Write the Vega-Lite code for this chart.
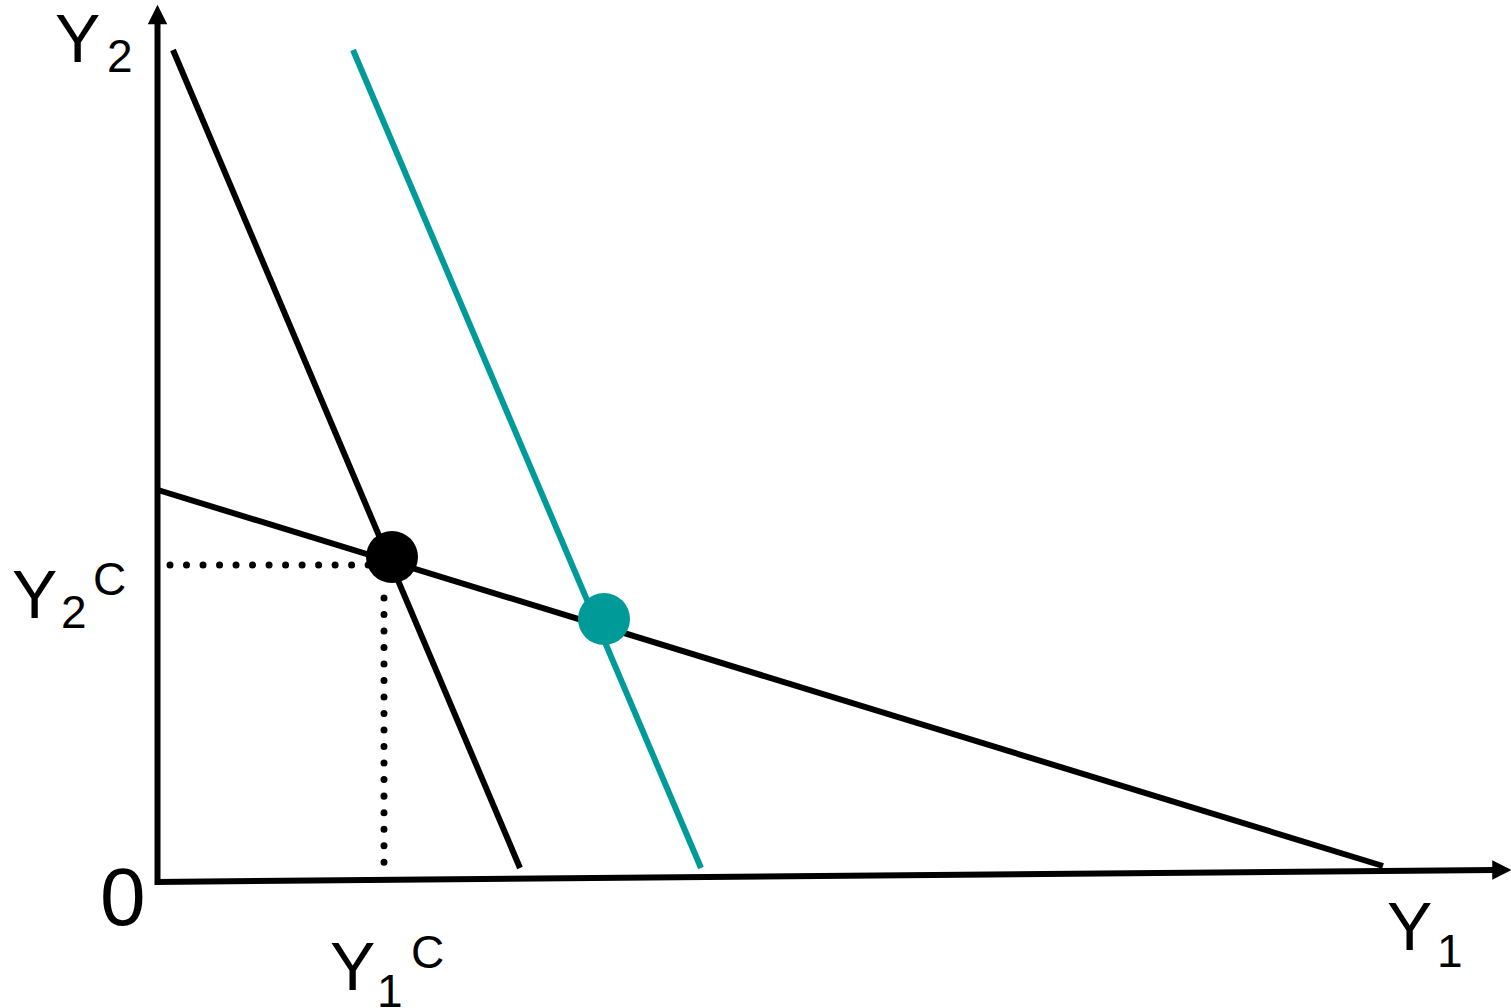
{
  "$schema": "https://vega.github.io/schema/vega-lite/v6.json",
  "width": 1511,
  "height": 1008,
  "autosize": "none",
  "padding": 0,
  "background": "white",
  "config": {"view": {"stroke": null}},
  "datasets": {
    "segments": [
      {"name": "Y2 axis", "x": -0.5, "y": -3, "x2": -0.5, "y2": 860, "kind": "black"},
      {"name": "Y1 axis", "x": -3, "y": 0, "x2": 1337, "y2": 12, "kind": "black"},
      {"name": "steep line", "x": 15, "y": 832, "x2": 362, "y2": 14, "kind": "black"},
      {"name": "flat line", "x": 0, "y": 392, "x2": 1225, "y2": 16, "kind": "black"},
      {"name": "shifted steep line", "x": 195, "y": 832, "x2": 543, "y2": 14, "kind": "teal"}
    ],
    "dotted": [
      {"name": "Y2C guide", "x": 12, "y": 317, "x2": 228, "y2": 317},
      {"name": "Y1C guide", "x": 226, "y": 284, "x2": 226, "y2": 4}
    ],
    "points": [
      {"name": "equilibrium", "x": 234, "y": 325, "kind": "black"},
      {"name": "new equilibrium", "x": 446, "y": 263, "kind": "teal"}
    ],
    "uparrow": [{"x": -0.5, "y": 867.5}],
    "rightarrow": [{"x": 1344, "y": 12}],
    "bigtext": [
      {"label": "Y", "x": -103, "y": 820},
      {"label": "Y", "x": -146, "y": 264},
      {"label": "Y", "x": 172, "y": -108},
      {"label": "Y", "x": 1229, "y": -68}
    ],
    "zerotext": [{"label": "0", "x": -58, "y": -43}],
    "smalltext": [
      {"label": "2", "x": -51, "y": 810},
      {"label": "2", "x": -97, "y": 254},
      {"label": "C", "x": -65, "y": 287},
      {"label": "1", "x": 219, "y": -125},
      {"label": "C", "x": 253, "y": -86},
      {"label": "1", "x": 1279, "y": -85}
    ]
  },
  "layer": [
    {
      "data": {"name": "segments"},
      "mark": {"type": "rule", "strokeWidth": 6, "strokeCap": "butt"},
      "encoding": {
        "x": {"field": "x", "type": "quantitative", "scale": {"domain": [-158, 1353], "nice": false, "zero": false}, "axis": null},
        "y": {"field": "y", "type": "quantitative", "scale": {"domain": [-126, 882], "nice": false, "zero": false}, "axis": null},
        "x2": {"field": "x2"},
        "y2": {"field": "y2"},
        "color": {"field": "kind", "type": "nominal", "scale": {"domain": ["black", "teal"], "range": ["#000000", "#009B98"]}, "legend": null}
      }
    },
    {
      "data": {"name": "dotted"},
      "mark": {"type": "rule", "strokeWidth": 7, "strokeCap": "round", "strokeDash": [0.01, 16.5], "color": "#000000"},
      "encoding": {
        "x": {"field": "x", "type": "quantitative"},
        "y": {"field": "y", "type": "quantitative"},
        "x2": {"field": "x2"},
        "y2": {"field": "y2"}
      }
    },
    {
      "data": {"name": "points"},
      "mark": {"type": "point", "shape": "circle", "filled": true, "opacity": 1, "size": 2704, "strokeWidth": 0},
      "encoding": {
        "x": {"field": "x", "type": "quantitative"},
        "y": {"field": "y", "type": "quantitative"},
        "color": {"field": "kind", "type": "nominal", "legend": null}
      }
    },
    {
      "data": {"name": "uparrow"},
      "mark": {"type": "point", "shape": "M0,-1L1,1L-1,1Z", "filled": true, "opacity": 1, "size": 380, "color": "#000000", "strokeWidth": 0},
      "encoding": {
        "x": {"field": "x", "type": "quantitative"},
        "y": {"field": "y", "type": "quantitative"}
      }
    },
    {
      "data": {"name": "rightarrow"},
      "mark": {"type": "point", "shape": "M1,0L-1,-1L-1,1Z", "filled": true, "opacity": 1, "size": 380, "color": "#000000", "strokeWidth": 0},
      "encoding": {
        "x": {"field": "x", "type": "quantitative"},
        "y": {"field": "y", "type": "quantitative"}
      }
    },
    {
      "data": {"name": "bigtext"},
      "mark": {"type": "text", "font": "Liberation Sans", "fontSize": 68, "align": "left", "baseline": "alphabetic", "color": "#000000"},
      "encoding": {
        "x": {"field": "x", "type": "quantitative"},
        "y": {"field": "y", "type": "quantitative"},
        "text": {"field": "label"}
      }
    },
    {
      "data": {"name": "zerotext"},
      "mark": {"type": "text", "font": "Liberation Sans", "fontSize": 82, "align": "left", "baseline": "alphabetic", "color": "#000000"},
      "encoding": {
        "x": {"field": "x", "type": "quantitative"},
        "y": {"field": "y", "type": "quantitative"},
        "text": {"field": "label"}
      }
    },
    {
      "data": {"name": "smalltext"},
      "mark": {"type": "text", "font": "Liberation Sans", "fontSize": 46, "align": "left", "baseline": "alphabetic", "color": "#000000"},
      "encoding": {
        "x": {"field": "x", "type": "quantitative"},
        "y": {"field": "y", "type": "quantitative"},
        "text": {"field": "label"}
      }
    }
  ]
}
